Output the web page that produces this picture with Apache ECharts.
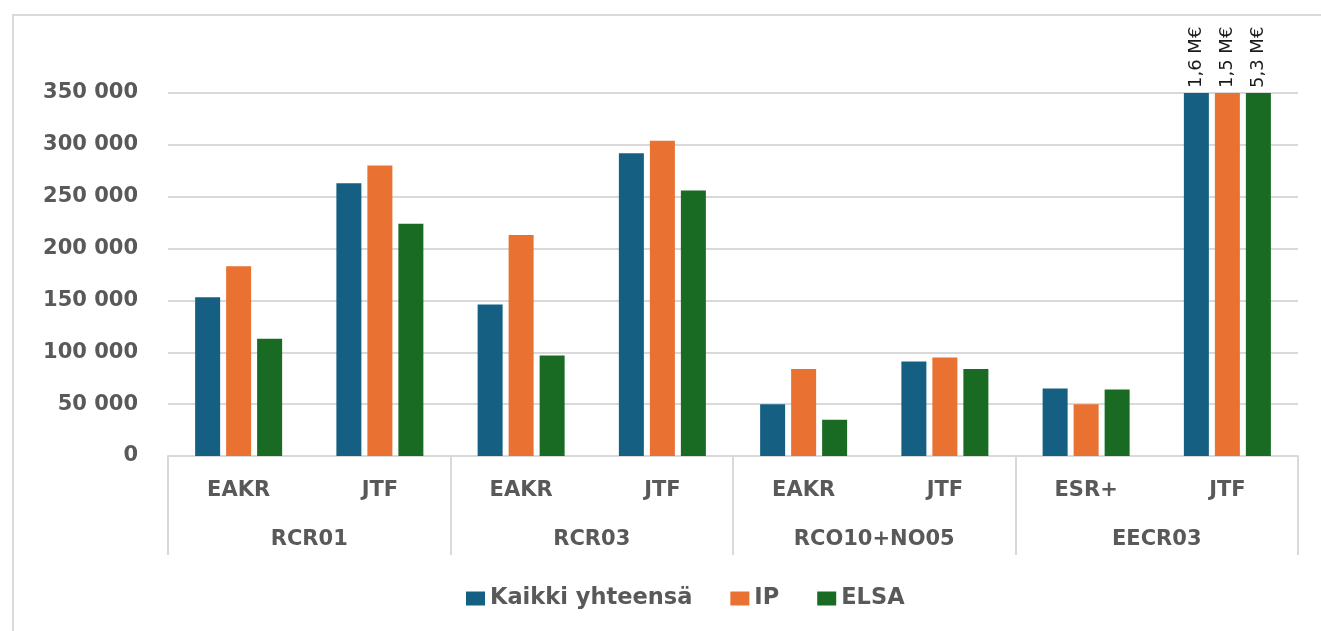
<!DOCTYPE html>
<html>
<head>
<meta charset="utf-8">
<script src="https://cdn.jsdelivr.net/npm/echarts@6/dist/echarts.min.js"></script>
<style>
html,body{margin:0;padding:0;background:#fff;}
#chart{width:1321px;height:631px;}
</style>
</head>
<body>
<div id="chart"></div>
<script>
const subCategories = ['EAKR','JTF','EAKR','JTF','EAKR','JTF','ESR+','JTF'];
const groups = ['RCR01','RCR03','RCO10+NO05','EECR03'];
const kaikki = [153000,263000,146000,292000,50000,91000,65000,1600000];
const ip     = [183000,280000,213000,304000,84000,95000,50000,1500000];
const elsa   = [113000,224000,97000,256000,35000,84000,64000,5300000];
const seriesNames = ['Kaikki yhteensä','IP','ELSA'];
const axisMax = 350000;
const axisInterval = 50000;

const colors = ['#156082','#E97132','#196B24'];
const FONT = 'DejaVu Sans';
const grey = '#595959';
const lineGrey = '#d9d9d9';

function fmtThousands(v){ return String(v).replace(/\B(?=(\d{3})+(?!\d))/g,' '); }
function fmtMillions(v){ return (v/1e6).toFixed(1).replace('.',',') + ' M€'; }

function buildData(arr){
  return arr.map(v => v > axisMax ? {
    value: axisMax,
    label: {show:true, formatter: fmtMillions(v)}
  } : v);
}

const chart = echarts.init(document.getElementById('chart'));
chart.setOption({
  animation:false,
  textStyle:{fontFamily:FONT},
  graphic:[{
    type:'rect', shape:{x:13,y:15,width:1400,height:700},
    style:{fill:'none', stroke:lineGrey, lineWidth:2}, z:-10
  }],
  legend:{
    data:seriesNames, left:461, top:582,
    itemWidth:19, itemHeight:14, itemGap:38, icon:'rect',
    textStyle:{fontFamily:FONT, fontWeight:'bold', fontSize:22.5, color:grey}
  },
  grid:{left:168, right:23, top:93, bottom:175, containLabel:false},
  xAxis:[{
    type:'category', data:subCategories, position:'bottom',
    axisLine:{show:true, lineStyle:{color:lineGrey, width:2}},
    axisTick:{show:false},
    axisLabel:{interval:0, margin:24, fontFamily:FONT, fontWeight:'bold', fontSize:21, color:grey}
  },{
    type:'category', data:groups, position:'bottom',
    axisLine:{show:false},
    axisTick:{show:true, interval:0, length:99, lineStyle:{color:lineGrey, width:2}},
    axisLabel:{interval:0, margin:73, fontFamily:FONT, fontWeight:'bold', fontSize:21, color:grey},
    splitLine:{show:false}
  }],
  yAxis:{
    type:'value', min:0, max:axisMax, interval:axisInterval,
    axisLine:{show:false}, axisTick:{show:false},
    splitLine:{lineStyle:{color:lineGrey, width:2}},
    axisLabel:{margin:30, formatter:fmtThousands, fontFamily:FONT, fontWeight:'bold', fontSize:21, color:grey}
  },
  series:[kaikki, ip, elsa].map((arr,i)=>({
    name:seriesNames[i], type:'bar', xAxisIndex:0,
    data:buildData(arr),
    barWidth:25, barGap:'24%',
    itemStyle:{color:colors[i]},
    label:{show:false, position:'top', rotate:90, align:'left', verticalAlign:'middle',
      distance:5, fontFamily:FONT, fontSize:18, color:'#1a1a1a'}
  }))
});
</script>
</body>
</html>
